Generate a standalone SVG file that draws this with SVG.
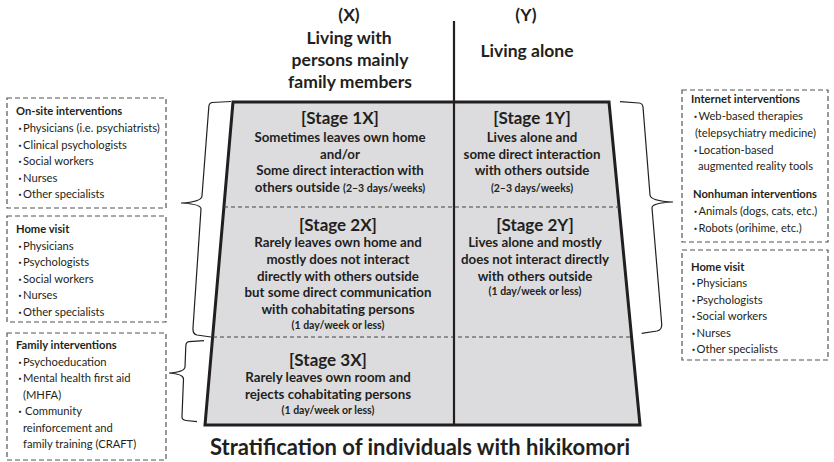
<svg xmlns="http://www.w3.org/2000/svg" width="834" height="462" viewBox="0 0 834 462">
<style>
text{font-family:Lato,"Noto Sans CJK JP",sans-serif;fill:#231f20}
.hd{font-size:17.5px;font-weight:bold;text-anchor:middle}
.st{font-size:17px;font-weight:bold;text-anchor:middle}
.ds{font-size:13.3px;font-weight:bold;text-anchor:middle}
.sm{font-size:10.5px;font-weight:bold}
.bt{font-size:11.2px;font-weight:bold}
.it{font-size:11.2px}
.dot{font-size:9px;font-weight:bold}
.box{fill:#fff;stroke:#555;stroke-width:1.2;stroke-dasharray:5 3}
.sep{stroke:#444;stroke-width:1;stroke-dasharray:4 3}
.br{fill:none;stroke:#231f20;stroke-width:1.2}
.title{font-size:22px;font-weight:bold;text-anchor:middle}
</style>
<rect width="834" height="462" fill="#fff"/>

<g id="pyramid">
<polygon points="233,102 609,102 640,425 205,425" fill="#dcdcde" stroke="#231f20" stroke-width="3" stroke-linejoin="miter"/>
<line class="sep" x1="224" y1="207" x2="619" y2="207"/>
<line class="sep" x1="213" y1="337" x2="631" y2="337"/>
<line x1="454" y1="21" x2="454" y2="425" stroke="#231f20" stroke-width="2.2"/>
</g>

<g id="header-x">
<text class="hd" x="349" y="21">(X)</text>
<text class="hd" x="349" y="44">Living with</text>
<text class="hd" x="350" y="66">persons mainly</text>
<text class="hd" x="350" y="88">family members</text>
</g>
<g id="header-y">
<text class="hd" x="526" y="21">(Y)</text>
<text class="hd" x="527" y="57">Living alone</text>
</g>

<g id="stage-1x">
<text class="st" x="340" y="124">[Stage 1X]</text>
<text class="ds" x="340" y="142">Sometimes leaves own home</text>
<text class="ds" x="340" y="158.5">and/or</text>
<text class="ds" x="340" y="175">Some direct interaction with</text>
<text class="ds" x="340" y="191.5">others outside <tspan class="sm">(2–3 days/weeks)</tspan></text>
</g>
<g id="stage-1y">
<text class="st" x="532" y="124">[Stage 1Y]</text>
<text class="ds" x="532" y="142">Lives alone and</text>
<text class="ds" x="532" y="158.5">some direct interaction</text>
<text class="ds" x="532" y="175">with others outside</text>
<text class="ds sm" x="532" y="191.5">(2–3 days/weeks)</text>
</g>
<g id="stage-2x">
<text class="st" x="338" y="231">[Stage 2X]</text>
<text class="ds" x="338" y="247">Rarely leaves own home and</text>
<text class="ds" x="338" y="264">mostly does not interact</text>
<text class="ds" x="338" y="281">directly with others outside</text>
<text class="ds" x="338" y="297">but some direct communication</text>
<text class="ds" x="338" y="314">with cohabitating persons</text>
<text class="ds sm" x="338" y="329">(1 day/week or less)</text>
</g>
<g id="stage-2y">
<text class="st" x="535" y="231">[Stage 2Y]</text>
<text class="ds" x="535" y="247">Lives alone and mostly</text>
<text class="ds" x="535" y="264">does not interact directly</text>
<text class="ds" x="535" y="281">with others outside</text>
<text class="ds sm" x="535" y="295">(1 day/week or less)</text>
</g>
<g id="stage-3x">
<text class="st" x="328" y="366">[Stage 3X]</text>
<text class="ds" x="328" y="382">Rarely leaves own room and</text>
<text class="ds" x="328" y="399">rejects cohabitating persons</text>
<text class="ds sm" x="328" y="414">(1 day/week or less)</text>
</g>

<g id="title">
<text class="title" x="420" y="455">Stratification of individuals with hikikomori</text>
</g>

<g id="box-onsite">
<rect class="box" x="7" y="98" width="159" height="110"/>
<text class="bt" x="16" y="115">On-site  interventions</text>
<text class="it" x="15.5" y="132"><tspan class="dot">・</tspan><tspan dx="-1.5">Physicians (i.e. psychiatrists)</tspan></text>
<text class="it" x="15.5" y="148.5"><tspan class="dot">・</tspan><tspan dx="-1.5">Clinical psychologists</tspan></text>
<text class="it" x="15.5" y="165"><tspan class="dot">・</tspan><tspan dx="-1.5">Social workers</tspan></text>
<text class="it" x="15.5" y="181.5"><tspan class="dot">・</tspan><tspan dx="-1.5">Nurses</tspan></text>
<text class="it" x="15.5" y="198"><tspan class="dot">・</tspan><tspan dx="-1.5">Other specialists</tspan></text>
</g>

<g id="box-homevisit-left">
<rect class="box" x="7" y="216" width="159" height="106"/>
<text class="bt" x="16" y="233">Home visit</text>
<text class="it" x="15.5" y="249.5"><tspan class="dot">・</tspan><tspan dx="-1.5">Physicians</tspan></text>
<text class="it" x="15.5" y="266"><tspan class="dot">・</tspan><tspan dx="-1.5">Psychologists</tspan></text>
<text class="it" x="15.5" y="282.5"><tspan class="dot">・</tspan><tspan dx="-1.5">Social workers</tspan></text>
<text class="it" x="15.5" y="299"><tspan class="dot">・</tspan><tspan dx="-1.5">Nurses</tspan></text>
<text class="it" x="15.5" y="315.5"><tspan class="dot">・</tspan><tspan dx="-1.5">Other specialists</tspan></text>
</g>

<g id="box-family">
<rect class="box" x="7" y="333" width="159" height="127"/>
<text class="bt" x="16" y="349">Family interventions</text>
<text class="it" x="15.5" y="365.5"><tspan class="dot">・</tspan><tspan dx="-1.5">Psychoeducation</tspan></text>
<text class="it" x="15.5" y="382"><tspan class="dot">・</tspan><tspan dx="-1.5">Mental health first aid</tspan></text>
<text class="it" x="23" y="398.5">(MHFA)</text>
<text class="it" x="15.5" y="415"><tspan class="dot">・</tspan><tspan dx="0.5">Community</tspan></text>
<text class="it" x="23" y="431.5">reinforcement and</text>
<text class="it" x="23" y="448">family training (CRAFT)</text>
</g>

<g id="box-internet">
<rect class="box" x="682" y="90" width="146" height="152"/>
<text class="bt" x="691" y="103">Internet interventions</text>
<text class="it" x="691" y="120"><tspan class="dot">・</tspan><tspan dx="-1.5">Web-based therapies</tspan></text>
<text class="it" x="695" y="137">(telepsychiatry medicine)</text>
<text class="it" x="691" y="153.5"><tspan class="dot">・</tspan><tspan dx="-1.5">Location-based</tspan></text>
<text class="it" x="698" y="170">augmented reality tools</text>
<text class="bt" x="693" y="198">Nonhuman interventions</text>
<text class="it" x="691" y="215"><tspan class="dot">・</tspan><tspan dx="-1.5">Animals (dogs, cats, etc.)</tspan></text>
<text class="it" x="691" y="231.5"><tspan class="dot">・</tspan><tspan dx="-1.5">Robots (orihime, etc.)</tspan></text>
</g>

<g id="box-homevisit-right">
<rect class="box" x="682" y="250" width="146" height="110"/>
<text class="bt" x="691" y="271">Home visit</text>
<text class="it" x="689" y="287"><tspan class="dot">・</tspan><tspan dx="-1.5">Physicians</tspan></text>
<text class="it" x="689" y="303.5"><tspan class="dot">・</tspan><tspan dx="-1.5">Psychologists</tspan></text>
<text class="it" x="689" y="320"><tspan class="dot">・</tspan><tspan dx="-1.5">Social workers</tspan></text>
<text class="it" x="689" y="336.5"><tspan class="dot">・</tspan><tspan dx="-1.5">Nurses</tspan></text>
<text class="it" x="689" y="353"><tspan class="dot">・</tspan><tspan dx="-1.5">Other specialists</tspan></text>
</g>

<g id="connectors">
<path class="br" d="M231 101.5 L212 102.5 Q209 103 208.8 107 L202 196 Q201.5 202 181 203 Q201 204 201 209 L193 328 Q192.5 334 197 335 L211 337"/>
<path class="br" d="M204 340.7 L189 341.7 Q186 342 185.8 346 L185 367 Q184.5 372 169 373 Q183.5 374 183.5 379 L182 416 Q181.5 420 186 420.5 L197 421.7"/>
<path class="br" d="M620 101.7 L639 103 Q642.5 103.3 643 107 L650 195 Q650.5 201 673 202 Q651.5 203 652 208 L661.7 324 Q662 330 657 331 L641.7 333.3"/>
</g>
</svg>
